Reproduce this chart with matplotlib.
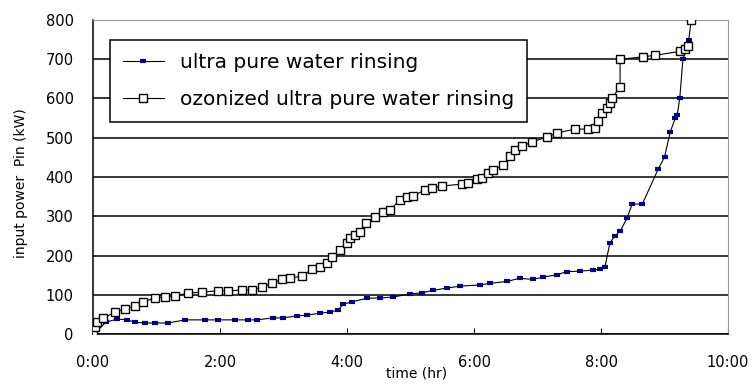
import matplotlib
matplotlib.use("Agg")
import matplotlib.pyplot as plt

# ultra pure water rinsing (hr, kW)
upw_t = [0.03, 0.2, 0.38, 0.54, 0.66, 0.82, 0.98, 1.18, 1.45, 1.76, 1.97, 2.24, 2.44,
         2.58, 2.83, 2.99, 3.21, 3.37, 3.57, 3.73, 3.86, 3.94, 4.08, 4.31, 4.52, 4.72,
         4.99, 5.18, 5.35, 5.57, 5.78, 6.09, 6.25, 6.52, 6.72, 6.93, 7.09, 7.31, 7.46,
         7.67, 7.87, 7.98, 8.06, 8.14, 8.22, 8.30, 8.41, 8.49, 8.65, 8.90, 9.00, 9.09,
         9.17, 9.20, 9.24, 9.29, 9.39]
upw_p = [2, 30, 38, 36, 30, 28, 28, 28, 36, 36, 36, 36, 36,
         36, 41, 41, 46, 48, 53, 56, 61, 76, 82, 91, 92, 94,
         102, 105, 111, 117, 122, 125, 129, 134, 142, 139, 145, 151, 159,
         160, 163, 165, 170, 232, 250, 262, 295, 331, 331, 420, 451, 515,
         550, 558, 601, 700, 749]

# ozonized ultra pure water rinsing (hr, kW)
ozo_t = [0.0, 0.03, 0.06, 0.16, 0.35, 0.5, 0.66, 0.79, 0.98, 1.13, 1.29, 1.5, 1.72,
         1.97, 2.13, 2.35, 2.5, 2.66, 2.82, 2.98, 3.1, 3.29, 3.45, 3.57, 3.68, 3.76,
         3.89, 4.0, 4.05, 4.13, 4.2, 4.3, 4.44, 4.57, 4.68, 4.83, 4.94, 5.04, 5.23,
         5.34, 5.5, 5.81, 5.9, 6.05, 6.13, 6.22, 6.3, 6.46, 6.57, 6.65, 6.76, 6.91,
         7.15, 7.3, 7.59, 7.8, 7.91, 7.95, 8.02, 8.09, 8.14, 8.17, 8.3, 8.3, 8.66,
         8.85, 9.24, 9.32, 9.37, 9.42]
ozo_p = [0, 18, 30, 40, 56, 64, 71, 82, 92, 95, 97, 104, 107,
         110, 110, 112, 112, 120, 129, 140, 142, 148, 165, 170, 181, 196,
         214, 232, 244, 252, 260, 283, 298, 311, 316, 341, 349, 352, 367,
         372, 377, 382, 385, 395, 397, 410, 418, 430, 453, 469, 479, 489,
         502, 512, 522, 522, 525, 543, 563, 575, 588, 601, 629, 700, 706,
         710, 720, 727, 734, 800]

x_ticks = [0, 2, 4, 6, 8, 10]
x_labels = ["0:00", "2:00", "4:00", "6:00", "8:00", "10:00"]
y_ticks = [0, 100, 200, 300, 400, 500, 600, 700, 800]

fig = plt.figure(figsize=(7.56, 3.86), dpi=100)
ax = fig.add_axes([0.123, 0.1347, 0.840, 0.8135])

ax.plot(upw_t, upw_p, color="black", linewidth=0.8, marker="_", markersize=5,
        markeredgewidth=3, markeredgecolor="#000080", label="ultra pure water rinsing",
        zorder=3)
ax.plot(ozo_t, ozo_p, color="black", linewidth=0.8, marker="s", markersize=6,
        markerfacecolor="white", markeredgecolor="black", markeredgewidth=1,
        label="ozonized ultra pure water rinsing", zorder=4)

ax.set_xlim(0, 10)
ax.set_ylim(0, 800)
ax.set_xticks(x_ticks)
ax.set_xticklabels(x_labels)
ax.set_yticks(y_ticks)
ax.tick_params(axis="x", direction="in", length=4, labelsize=10.5, pad=15)
ax.tick_params(axis="y", length=0, labelsize=10.5, pad=14)
ax.yaxis.grid(True, color="black", linewidth=1.1)
ax.set_axisbelow(True)

for s in ["top", "right"]:
    ax.spines[s].set_color("#999999")
for s in ["left", "bottom"]:
    ax.spines[s].set_color("black")
    ax.spines[s].set_linewidth(1.1)

ax.set_xlabel("time (hr)", fontsize=10)
ax.xaxis.set_label_coords(0.51, -0.105)
ax.set_ylabel("input power  Pin (kW)", fontsize=10)
ax.yaxis.set_label_coords(-0.102, 0.48)

leg = ax.legend(loc="upper left", bbox_to_anchor=(0.027, 0.936), borderaxespad=0,
                fontsize=14.5, fancybox=False, edgecolor="black", framealpha=1,
                handlelength=2.0, labelspacing=0.9, borderpad=0.65)
leg.get_frame().set_linewidth(1.1)

fig.savefig("out.png", dpi=100)
